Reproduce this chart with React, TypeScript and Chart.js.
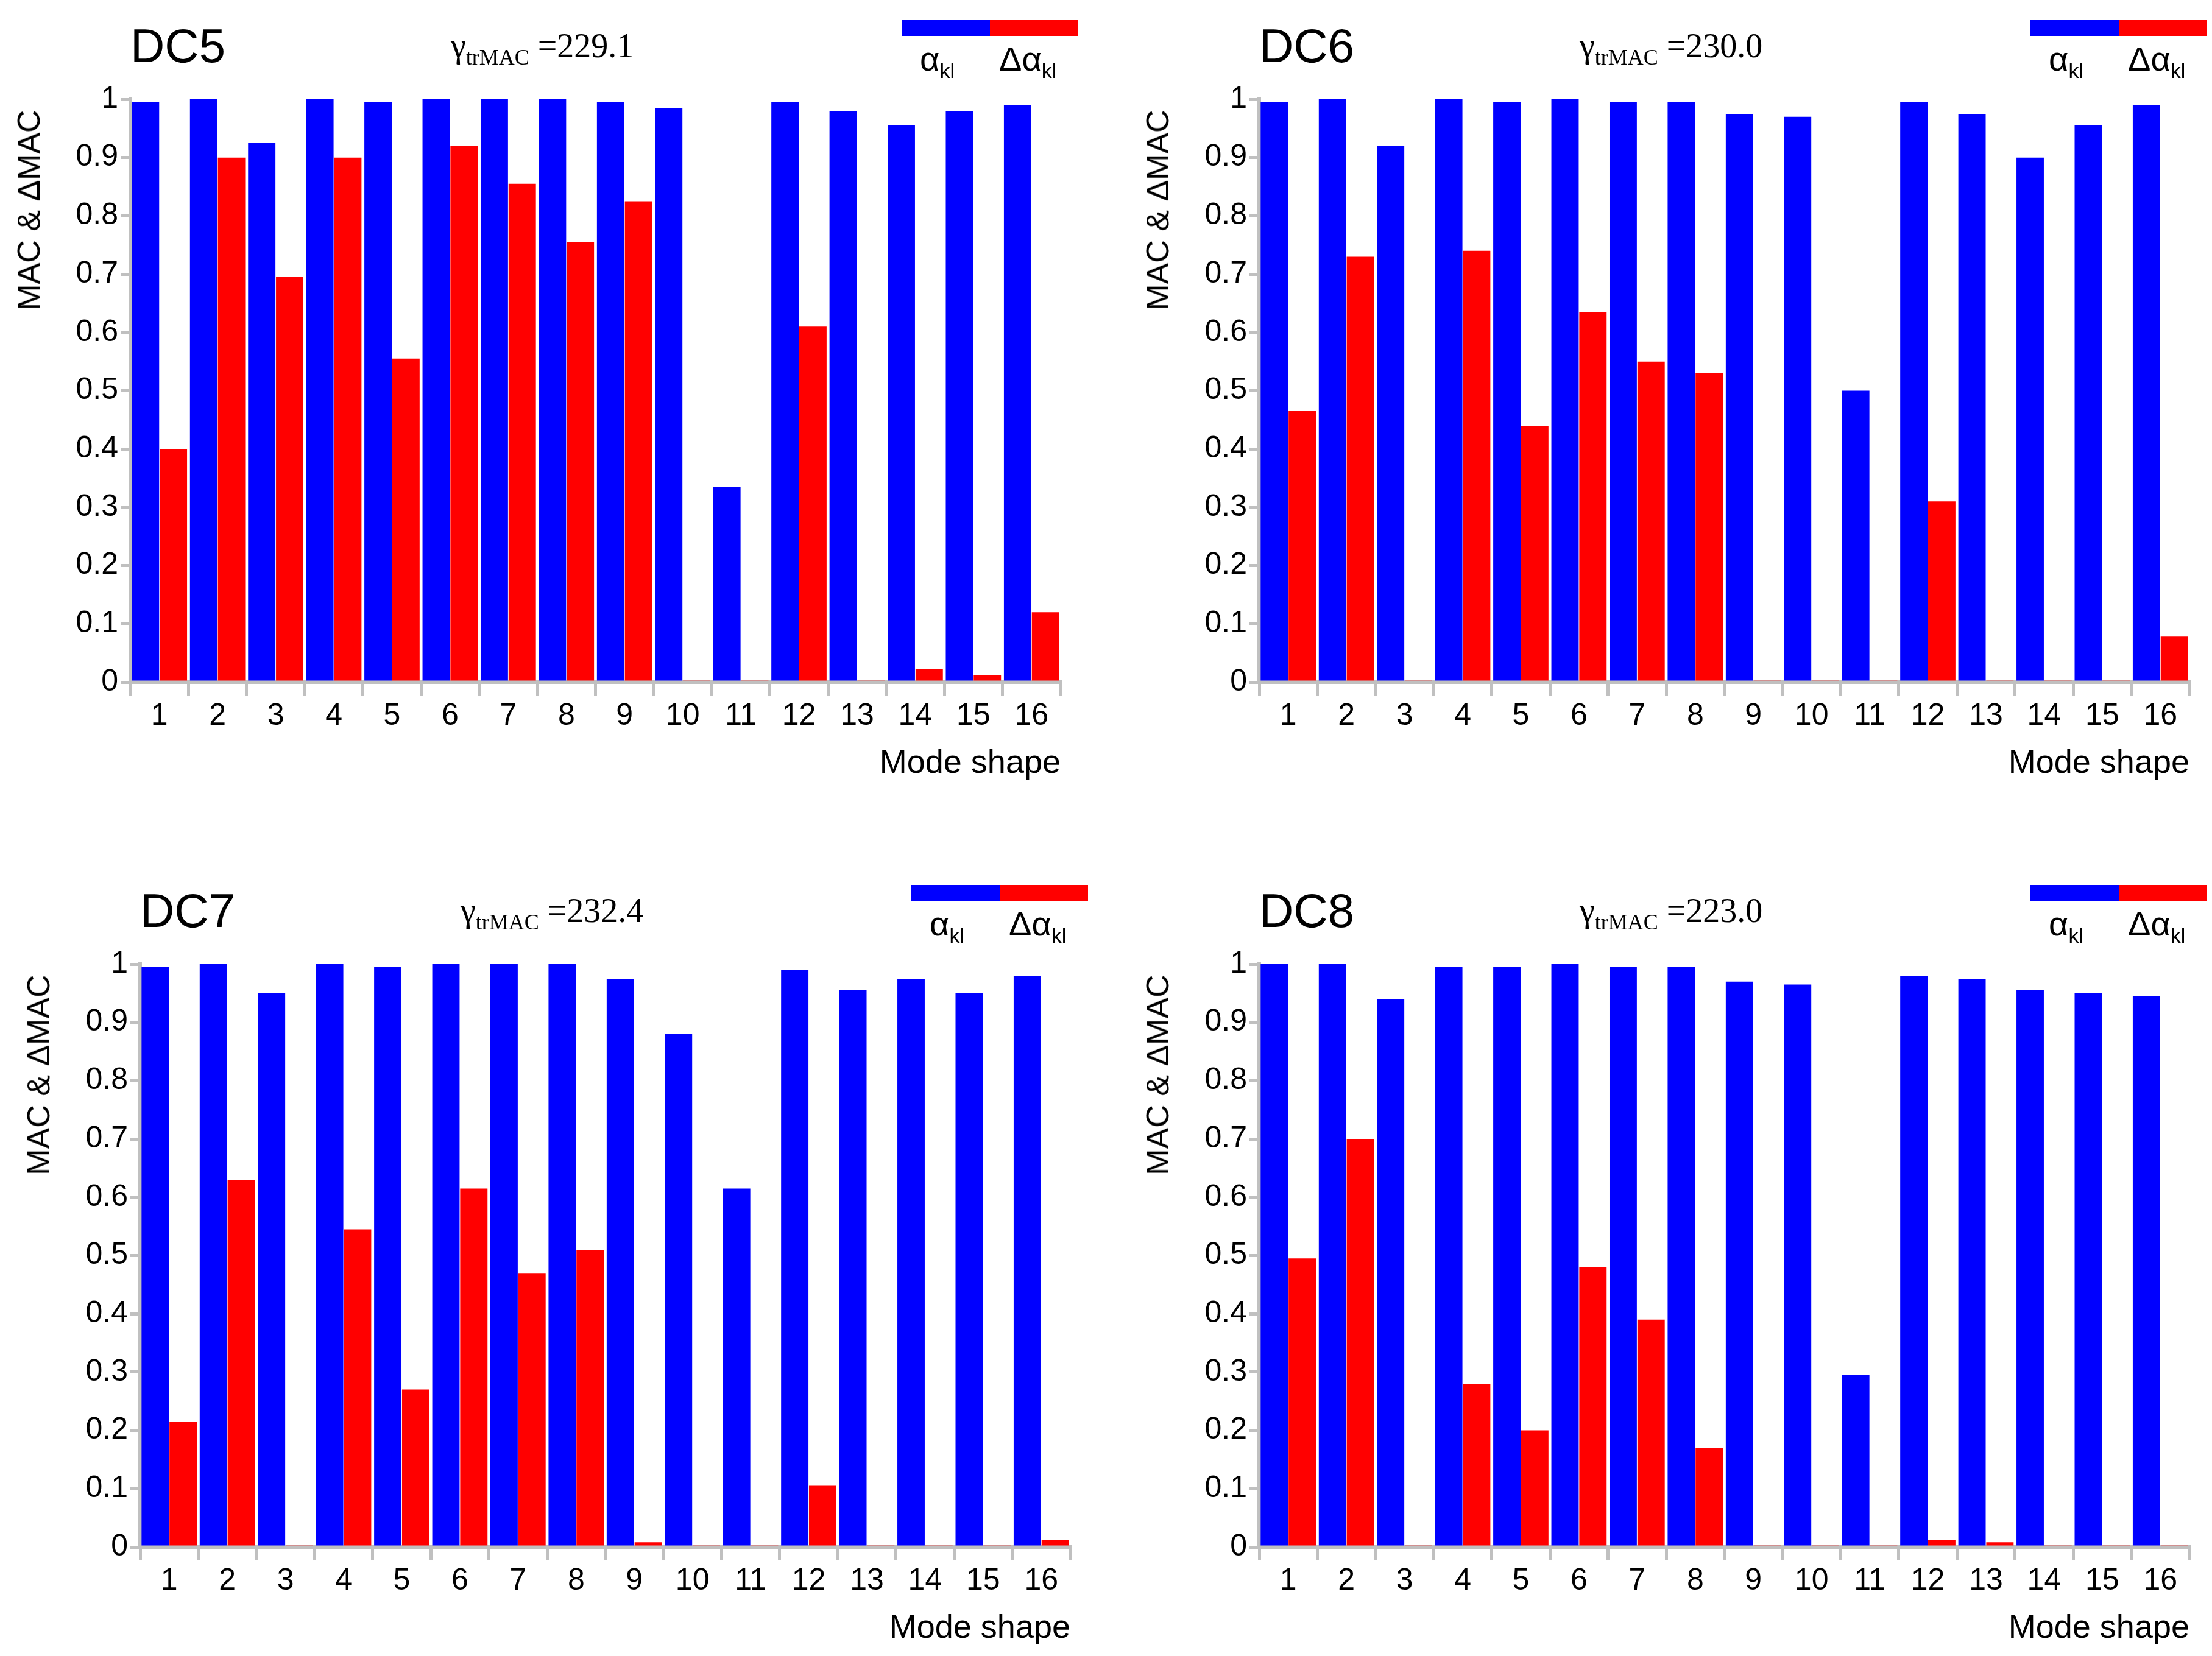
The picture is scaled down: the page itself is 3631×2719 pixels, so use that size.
import React, { useEffect, useRef } from "react";
import { Chart, registerables } from "chart.js";
Chart.register(...registerables);

const modes = ["1","2","3","4","5","6","7","8","9","10","11","12","13","14","15","16"];
const dc5Alpha = [0.995,1,0.925,1,0.995,1,1,1,0.995,0.985,0.335,0.995,0.98,0.955,0.98,0.99];
const dc5Delta = [0.40,0.90,0.695,0.90,0.555,0.92,0.855,0.755,0.825,0.003,0.003,0.61,0.003,0.022,0.012,0.12];
const dc6Alpha = [0.995,1,0.92,1,0.995,1,0.995,0.995,0.975,0.97,0.50,0.995,0.975,0.90,0.955,0.99];
const dc6Delta = [0.465,0.73,0.003,0.74,0.44,0.635,0.55,0.53,0.003,0.003,0.003,0.31,0.003,0.003,0.003,0.078];
const dc7Alpha = [0.995,1,0.95,1,0.995,1,1,1,0.975,0.88,0.615,0.99,0.955,0.975,0.95,0.98];
const dc7Delta = [0.215,0.63,0.003,0.545,0.27,0.615,0.47,0.51,0.008,0.003,0.003,0.105,0.003,0.003,0.003,0.012];
const dc8Alpha = [1,1,0.94,0.995,0.995,1,0.995,0.995,0.97,0.965,0.295,0.98,0.975,0.955,0.95,0.945];
const dc8Delta = [0.495,0.70,0.003,0.28,0.20,0.48,0.39,0.17,0.003,0.003,0.003,0.012,0.008,0.003,0.003,0.003];
const panelNames = ["DC5","DC6","DC7","DC8"];
const gammaValues = ["229.1","230.0","232.4","223.0"];

const W = 1815, H = 1360;
const SANS = "'Liberation Sans', Arial, sans-serif";
const SERIF = "'Liberation Serif', 'Times New Roman', serif";

function Panel({ name, gamma, alpha, delta, x, y }: any) {
  const ref = useRef<HTMLCanvasElement>(null);
  useEffect(() => {
    const ch = new Chart(ref.current!, {
      type: "bar",
      data: {
        labels: modes,
        datasets: [
          { data: alpha, backgroundColor: "#0000ff", barPercentage: 0.98, categoryPercentage: 0.96 },
          { data: delta, backgroundColor: "#ff0000", barPercentage: 0.98, categoryPercentage: 0.96 },
        ],
      },
      options: {
        animation: false,
        responsive: false,
        devicePixelRatio: 1,
        layout: { padding: { top: 163, right: 74, bottom: 0, left: 0 } },
        plugins: { legend: { display: false }, tooltip: { enabled: false } },
        scales: {
          x: {
            grid: { drawOnChartArea: false, color: "#c0c0c0", lineWidth: 5, tickLength: 22 },
            border: { color: "#c0c0c0", width: 6 },
            ticks: { color: "#000", font: { family: SANS, size: 50 }, padding: 4, maxRotation: 0 },
            afterFit: (s: any) => { s.height = 240; },
          },
          y: {
            min: 0, max: 1,
            grid: { drawOnChartArea: false, color: "#c0c0c0", lineWidth: 5, tickLength: 16 },
            border: { color: "#c0c0c0", width: 6 },
            ticks: { stepSize: 0.1, color: "#000", font: { family: SANS, size: 50 }, padding: 4,
              callback: (v: any) => String(Math.round(Number(v) * 10) / 10) },
            afterFit: (s: any) => { s.width = 214; },
          },
        },
      },
    });
    return () => ch.destroy();
  }, []);
  const abs = (o: any) => ({ position: "absolute" as const, whiteSpace: "nowrap" as const, ...o });
  return (
    <div style={abs({ left: x, top: y, width: W, height: H })}>
      <canvas ref={ref} width={W} height={H} style={{ width: W, height: H }} />
      <div style={abs({ left: 214, top: 30, fontFamily: SANS, fontSize: 78, lineHeight: "90px" })}>{name}</div>
      <div style={abs({ left: 740, top: 40, fontFamily: SERIF, fontSize: 56, lineHeight: "70px" })}>
        γ<sub style={{ fontSize: 36 }}>trMAC</sub> =<span>{gamma}</span>
      </div>
      <div style={abs({ left: 1480, top: 33, width: 145, height: 26, background: "#0000ff" })} />
      <div style={abs({ left: 1625, top: 33, width: 145, height: 26, background: "#ff0000" })} />
      <div style={abs({ left: 1510, top: 62, fontFamily: SANS, fontSize: 56, lineHeight: "70px" })}>
        α<sub style={{ fontSize: 34 }}>kl</sub>
      </div>
      <div style={abs({ left: 1640, top: 62, fontFamily: SANS, fontSize: 56, lineHeight: "70px" })}>
        Δα<sub style={{ fontSize: 34 }}>kl</sub>
      </div>
      <div style={abs({ right: W - 1741, top: 1218, fontFamily: SANS, fontSize: 54, lineHeight: "64px" })}>Mode shape</div>
      <div style={abs({ left: 47, top: 345, fontFamily: SANS, fontSize: 52, lineHeight: "60px",
        transform: "translate(-50%, -50%) rotate(-90deg)" })}>MAC &amp; ΔMAC</div>
    </div>
  );
}

export default function App() {
  return (
    <div style={{ position: "absolute", left: 0, top: 0, width: 3631, height: 2719, background: "#fff" }}>
      <Panel name={panelNames[0]} gamma={gammaValues[0]} alpha={dc5Alpha} delta={dc5Delta} x={0} y={0} />
      <Panel name={panelNames[1]} gamma={gammaValues[1]} alpha={dc6Alpha} delta={dc6Delta} x={1853} y={0} />
      <Panel name={panelNames[2]} gamma={gammaValues[2]} alpha={dc7Alpha} delta={dc7Delta} x={16} y={1420} />
      <Panel name={panelNames[3]} gamma={gammaValues[3]} alpha={dc8Alpha} delta={dc8Delta} x={1853} y={1420} />
    </div>
  );
}
